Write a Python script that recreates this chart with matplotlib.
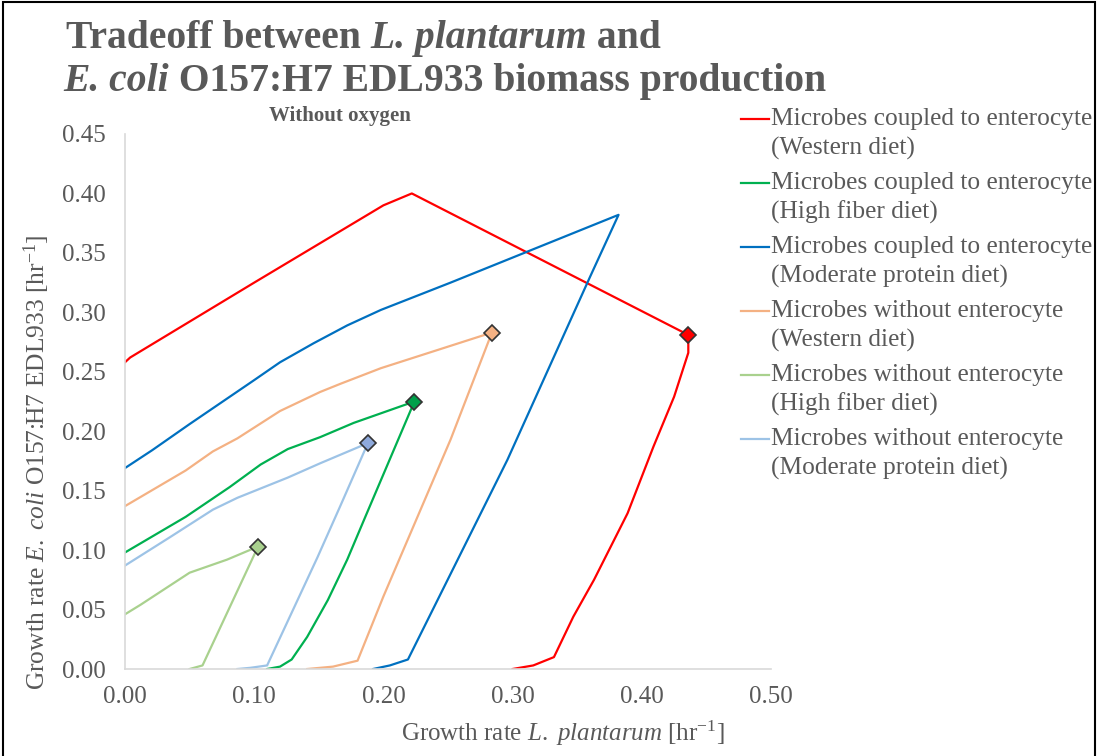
import matplotlib
matplotlib.use("Agg")
import matplotlib.pyplot as plt
from matplotlib.lines import Line2D
from matplotlib.patches import Rectangle

# curve data (x = L. plantarum, y = E. coli growth rate)
red_x = [0.000, 0.004, 0.100, 0.200, 0.222, 0.436, 0.436, 0.425, 0.409, 0.389, 0.363, 0.347, 0.332, 0.316, 0.300]
red_y = [0.258, 0.262, 0.325, 0.390, 0.400, 0.281, 0.266, 0.229, 0.187, 0.131, 0.075, 0.044, 0.010, 0.003, 0.000]

green_x = [0.000, 0.047, 0.081, 0.105, 0.126, 0.151, 0.177, 0.224, 0.186, 0.172, 0.157, 0.141, 0.129, 0.120, 0.110]
green_y = [0.098, 0.128, 0.153, 0.172, 0.185, 0.195, 0.207, 0.225, 0.128, 0.092, 0.058, 0.027, 0.008, 0.002, 0.000]

blue_x = [0.000, 0.021, 0.050, 0.100, 0.120, 0.146, 0.172, 0.198, 0.252, 0.382, 0.360, 0.296, 0.219, 0.205, 0.192]
blue_y = [0.169, 0.184, 0.206, 0.243, 0.258, 0.274, 0.289, 0.302, 0.325, 0.382, 0.330, 0.176, 0.008, 0.003, 0.000]

orange_x = [0.000, 0.047, 0.068, 0.087, 0.120, 0.151, 0.167, 0.198, 0.284, 0.252, 0.200, 0.180, 0.161, 0.141]
orange_y = [0.137, 0.167, 0.183, 0.194, 0.217, 0.233, 0.240, 0.253, 0.283, 0.193, 0.061, 0.007, 0.002, 0.000]

ltgreen_x = [0.000, 0.012, 0.050, 0.079, 0.103, 0.060, 0.050]
ltgreen_y = [0.046, 0.054, 0.081, 0.092, 0.103, 0.003, 0.000]

ltblue_x = [0.000, 0.035, 0.068, 0.087, 0.126, 0.151, 0.188, 0.167, 0.149, 0.110, 0.097, 0.087]
ltblue_y = [0.087, 0.111, 0.134, 0.144, 0.161, 0.173, 0.190, 0.138, 0.094, 0.003, 0.001, 0.000]

labels = [
    ("Microbes coupled to enterocyte", "(Western diet)"),
    ("Microbes coupled to enterocyte", "(High fiber diet)"),
    ("Microbes coupled to enterocyte", "(Moderate protein diet)"),
    ("Microbes without enterocyte", "(Western diet)"),
    ("Microbes without enterocyte", "(High fiber diet)"),
    ("Microbes without enterocyte", "(Moderate protein diet)"),
]

xticks = [0.0, 0.1, 0.2, 0.3, 0.4, 0.5]
yticks = [0.0, 0.05, 0.10, 0.15, 0.20, 0.25, 0.30, 0.35, 0.40, 0.45]

grey = "#595959"
serif = "Liberation Serif"

plt.rcParams["font.family"] = [serif, "DejaVu Sans"]
plt.rcParams["mathtext.fontset"] = "custom"
plt.rcParams["mathtext.rm"] = serif
plt.rcParams["mathtext.it"] = serif + ":italic"
plt.rcParams["mathtext.bf"] = serif + ":bold"

W, H = 1098, 756
fig = plt.figure(figsize=(W / 100, H / 100), dpi=100)
ax = fig.add_axes([125 / W, 1 - 669 / H, 646 / W, 535 / H])

# series: x, y, color, marker face (None = no diamond), index of vertex
series = [
    (red_x, red_y, "#FF0000", "#FF0000", 5),
    (green_x, green_y, "#00B050", "#00A04A", 7),
    (blue_x, blue_y, "#0070C0", None, 9),
    (orange_x, orange_y, "#F4B183", "#F4B183", 8),
    (ltgreen_x, ltgreen_y, "#A9D18E", "#A9D18E", 4),
    (ltblue_x, ltblue_y, "#9DC3E6", "#8EA9DB", 6),
]

for x, y, c, mfc, vi in series:
    ax.plot(x, y, color=c, lw=1.6, solid_joinstyle="round", zorder=2)
for x, y, c, mfc, vi in series:
    if mfc is not None:
        ax.plot(x[vi], y[vi], marker="D", ms=8, mfc=mfc, mec="#333333", mew=1.2, zorder=3)

ax.set_xlim(0, 0.5)
ax.set_ylim(0, 0.45)
ax.set_xticks(xticks)
ax.set_yticks(yticks)
ax.set_xticklabels([f"{v:.2f}" for v in xticks])
ax.set_yticklabels([f"{v:.2f}" for v in yticks])
ax.tick_params(length=0, labelsize=18, labelcolor=grey)
ax.tick_params(axis="x", pad=12)
ax.tick_params(axis="y", pad=14)
for s in ["top", "right"]:
    ax.spines[s].set_visible(False)
for s in ["left", "bottom"]:
    ax.spines[s].set_color("#D9D9D9")
    ax.spines[s].set_linewidth(1.2)

fig.text(563 / W, 1 - 733 / H, "Growth rate $\\it{L.\\ plantarum}$ [hr$^{-1}$]",
         ha="center", va="center", fontsize=18, color=grey)
fig.text(37 / W, 1 - 462 / H, "Growth rate $\\it{E.\\ coli}$ O157:H7 EDL933 [hr$^{-1}$]",
         ha="center", va="center", rotation=90, fontsize=18.4, color=grey)

fig.text(340 / W, 1 - 116 / H, "Without oxygen", ha="center", va="center",
         fontsize=15, fontweight="bold", color=grey)

# legend drawn by hand: handle sits on the first line of each two-line label
for i, ((l1, l2), (x, y, c, mfc, vi)) in enumerate(zip(labels, series)):
    y1 = 1 - (119 + 64 * i) / H
    y2 = 1 - (148 + 64 * i) / H
    fig.add_artist(Line2D([741 / W, 769 / W], [y1, y1], color=c, lw=1.6))
    fig.text(771 / W, y1, l1, ha="left", va="center", fontsize=18.3, color=grey)
    fig.text(771 / W, y2, l2, ha="left", va="center", fontsize=18.3, color=grey)

# title with mixed italic pieces
renderer = fig.canvas.get_renderer()


def draw_pieces(x_px, y_px, pieces):
    x = x_px
    for s, style in pieces:
        t = fig.text(x / W, 1 - y_px / H, s, ha="left", va="baseline",
                     fontsize=28.5, fontweight="bold", style=style, color=grey)
        x += t.get_window_extent(renderer).width


draw_pieces(66, 48, [("Tradeoff between", "normal"), (" L. plantarum", "italic"), (" and", "normal")])
draw_pieces(63, 91, [("E. coli", "italic"), (" O157:H7 EDL933 biomass production", "normal")])

fig.add_artist(Rectangle((3 / W, -0.01), 1 - 6 / W, 1 - 2 / H + 0.01, fill=False,
                         edgecolor="black", lw=1.5, transform=fig.transFigure))

fig.savefig("out.png", dpi=100)
